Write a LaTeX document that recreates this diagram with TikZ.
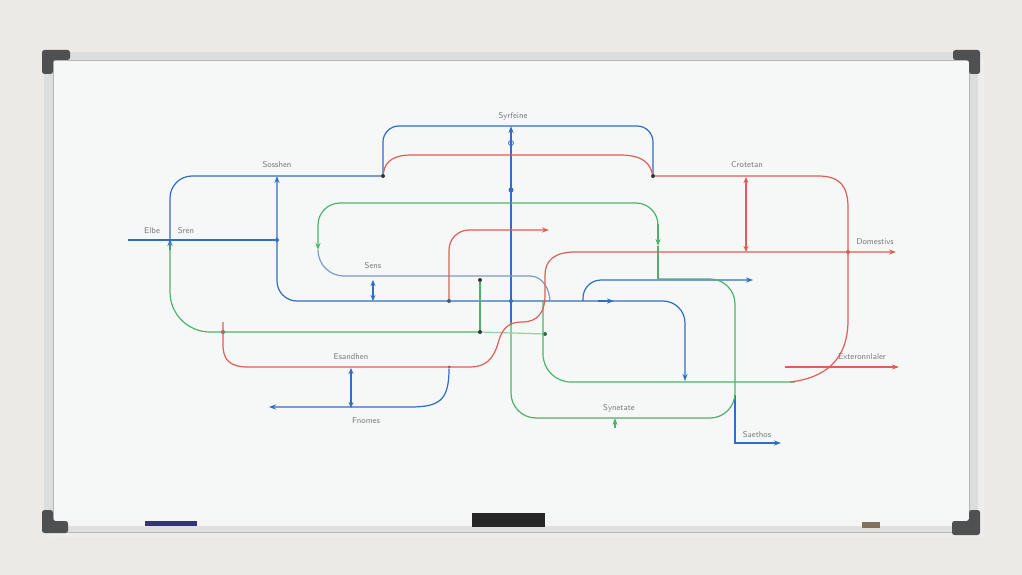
\documentclass[tikz,border=0pt]{standalone}
\usepackage{xcolor}
\usepackage{tikz}
\usetikzlibrary{arrows.meta}

\definecolor{wall}{HTML}{EBEAE7}
\definecolor{board}{HTML}{F6F7F7}
\definecolor{alu}{HTML}{DCDDDD}
\definecolor{alue}{HTML}{B5B7B7}
\definecolor{capc}{HTML}{4E5052}
\definecolor{mblue}{HTML}{2F6EC2}
\definecolor{mred}{HTML}{DE5E58}
\definecolor{mgreen}{HTML}{4DB36B}
\definecolor{mgray}{HTML}{7F9CC2}
\definecolor{ink}{HTML}{7A7A7A}

\begin{document}
\begin{tikzpicture}[x=1pt,y=-1pt]
			\tikzstyle{lbl} = [text=ink, font=\sffamily\fontsize{8.5}{10}\selectfont, inner sep=1pt]
			\tikzstyle{dot} = [circle, fill=#1, inner sep=0pt, minimum size=4pt]
			\tikzstyle{framecap} = [fill=capc, rounded corners=2.5pt]
			\tikzset{pen/.style = {line width=1.2pt, color=#1}}
			\tikzset{arr/.style = {-{Stealth[length=7pt,width=5pt]}}}
			\tikzset{arrs/.style = {{Stealth[length=6pt,width=5pt]}-{Stealth[length=6pt,width=5pt]}}}

			\useasboundingbox (0,0) rectangle (1022,575);
			\fill[wall] (0,0) rectangle (1022,575);
			\fill[black!7] (50,58) rectangle (984,537);

			% board and frame
			\fill[board] (46,52) rectangle (978,528);
			\fill[alu] (46,52) rectangle (978,60);
			\fill[alu] (44,52) rectangle (53,526);
			\fill[alu] (969,52) rectangle (978,526);
			\draw[alue, line width=0.6pt] (53,60) rectangle (969,520);
			\fill[black!12] (55,520) rectangle (975,532);
			\fill[black!4] (55,520) rectangle (975,526);
			\draw[alue, line width=0.6pt] (55,532) -- (975,532);

			\fill[framecap] (42,74) -- (42,50) -- (70,50) -- (70,60) -- (53,60) -- (53,74) -- cycle;
			\fill[framecap] (980,74) -- (980,50) -- (953,50) -- (953,60) -- (969,60) -- (969,74) -- cycle;
			\fill[framecap] (42,510) -- (53,510) -- (53,521) -- (68,521) -- (68,533) -- (42,533) -- cycle;
			\fill[framecap] (980,510) -- (969,510) -- (969,521) -- (952,521) -- (952,535) -- (980,535) -- cycle;

			\fill[blue!40!black!80] (145,521) rectangle (197,526);
			\fill[black!85] (472,513) rectangle (545,527);
			\fill[brown!40!black!70] (862,522) rectangle (880,528);

			% junction dots
			\node[dot=black!80](jtl) at (383,176) {};
			\node[dot=black!80](jtr) at (653,176) {};
			\node[dot=mblue](jin) at (277,240) {};
			\node[dot=mred](jdm) at (848,252) {};
			\node[dot=black!70](jrs) at (449,301) {};
			\node[dot=mblue](jc) at (511,301) {};
			\node[dot=black!80](jgt) at (480,280) {};
			\node[dot=black!80](jgb) at (480,332) {};
			\node[dot=mgreen!60!black](jgr) at (545,334) {};
			\node[dot=black!70](jrl) at (223,332) {};
			\node[dot=black!70, minimum size=3pt](jfn) at (449,367) {};
			\node[dot=mblue, minimum size=5pt](jsy) at (511,190) {};
			\node[circle, draw=mblue, line width=0.8pt, inner sep=0pt, minimum size=5pt](jso) at (511,143) {};

			% blue
			\draw[pen=mblue, rounded corners=16pt] (jtl) -- (383,126) -- (653,126) -- (jtr);
			\draw[pen=mblue, rounded corners=22pt] (jtl) -- (170,176) -- (170,242);
			\draw[pen=mblue, arr] (170,250) -- (170,239);
			\draw[pen=mblue] (128,240) -- (jin);
			\draw[pen=mblue, arr, rounded corners=20pt] (612,301) -- (277,301) -- (277,176);
			\draw[pen=mblue, arr] (598,301) -- (614,301);
			\draw[pen=mblue, arr, rounded corners=22pt] (612,301) -- (685,301) -- (685,381);
			\draw[pen=mblue, arr, rounded corners=18pt] (583,301) -- (583,280) -- (753,280);
			\draw[pen=mblue, arr] (511,325) -- (511,126);
			\draw[pen=mblue, arr] (735,395) -- (735,443) -- (781,443);
			\draw[pen=mblue, arr] (jfn) .. controls (449,400) and (440,407) .. (410,407) -- (269,407);
			\draw[pen=mblue, arrs] (351,368) -- (351,408);
			\draw[pen=mblue, arrs] (373,280) -- (373,301);

			% green
			\draw[pen=mgreen, arr, rounded corners=22pt] (658,226) -- (658,203) -- (318,203) -- (318,250);
			\draw[pen=mgreen, arr] (658,224) -- (658,246);
			\draw[pen=mgreen] (658,246) -- (658,279);
			\draw[pen=mgreen, rounded corners=25pt] (658,279) -- (735,279) -- (735,418) -- (511,418) -- (511,322);
			\draw[pen=mgreen, arr] (615,428) -- (615,418);
			\draw[pen=mgreen, rounded corners=40pt] (170,243) -- (170,332) -- (jgb);
			\draw[pen=mgreen!60] (jgb) -- (jgr);
			\draw[pen=mgreen] (jgt) -- (jgb);
			\draw[pen=mgreen, rounded corners=28pt] (543,300) -- (543,382) -- (795,382);
			\draw[pen=mgray, rounded corners=26pt] (318,250) -- (318,276) -- (530,276);
			\draw[pen=mgray] (530,276) .. controls (543,276) and (550,290) .. (550,302);

			% red
			\draw[pen=mred] (jtl) .. controls (385,160) and (395,155) .. (412,155) -- (620,155) .. controls (645,155) and (650,165) .. (jtr);
			\draw[pen=mred] (jtr) -- (818,176) .. controls (840,176) and (848,186) .. (848,208) -- (848,320) .. controls (848,360) and (825,378) .. (790,382);
			\draw[pen=mred, arrs] (746,177) -- (746,252);
			\draw[pen=mred, arr] (223,322) -- (223,345) .. controls (223,360) and (230,367) .. (248,367) -- (470,367) .. controls (492,367) and (496,350) .. (499,340) .. controls (503,327) and (510,322) .. (522,322) .. controls (538,322) and (545,312) .. (545,295) -- (545,275) .. controls (545,260) and (555,252) .. (575,252) -- (896,252);
			\draw[pen=mred, arr, rounded corners=20pt] (jrs) -- (449,230) -- (549,230);
			\draw[pen=mred, arr] (785,367) -- (899,367);

			% labels
			\node[lbl](syr) at (513,116) {Syrfeine};
			\node[lbl](sos) at (277,165) {Sosshen};
			\node[lbl](elb) at (152,231) {Elbe};
			\node[lbl](sre) at (186,231) {Sren};
			\node[lbl](cro) at (747,165) {Crotetan};
			\node[lbl](dom) at (875,242) {Domestivs};
			\node[lbl](sen) at (373,266) {Sens};
			\node[lbl](esa) at (351,357) {Esandhen};
			\node[lbl](fno) at (366,421) {Fnomes};
			\node[lbl](syn) at (619,408) {Synetate};
			\node[lbl](ext) at (862,357) {Exteronnlaler};
			\node[lbl](sae) at (757,435) {Saethos};
\end{tikzpicture}
\end{document}
